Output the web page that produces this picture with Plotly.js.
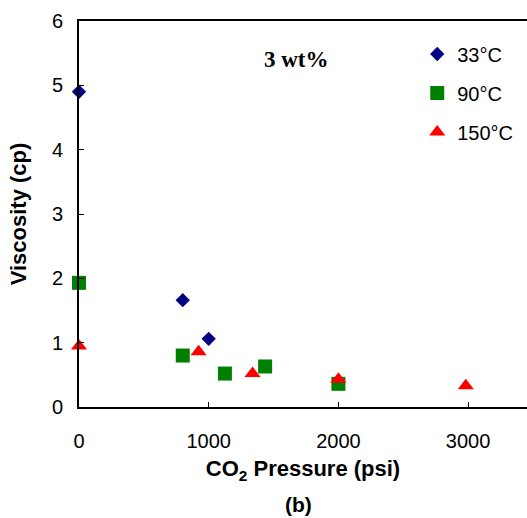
<!DOCTYPE html>
<html>
<head>
<meta charset="utf-8">
<script src="https://cdn.plot.ly/plotly-3.0.1.min.js"></script>
<style>
html,body{margin:0;padding:0;overflow:hidden;background:#fff;}
#chart{width:527px;height:518px;}
</style>
</head>
<body>
<div id="chart"></div>
<script>
// Data
const pressure33 = [0, 800, 1000];
const visc33 = [4.9, 1.66, 1.06];
const pressure90 = [0, 800, 1125, 1435, 2000];
const visc90 = [1.93, 0.8, 0.52, 0.63, 0.36];
const pressure150 = [0, 922, 1338, 2000, 2982];
const visc150 = [0.95, 0.86, 0.52, 0.43, 0.33];
const seriesNames = ['33°C', '90°C', '150°C'];
const xTicks = [0, 1000, 2000, 3000];
const yTicks = [0, 1, 2, 3, 4, 5, 6];

const traces = [
  {x: pressure33, y: visc33, name: seriesNames[0], legendgroup: 'a', mode: 'markers', type: 'scatter', cliponaxis: false,
   marker: {symbol: 'diamond', size: 11, color: '#000080'}},
  {x: pressure90, y: visc90, name: seriesNames[1], legendgroup: 'b', mode: 'markers', type: 'scatter', cliponaxis: false,
   marker: {symbol: 'square', size: 14, color: '#008000'}},
  {x: pressure150, y: visc150, name: seriesNames[2], legendgroup: 'c', mode: 'markers', type: 'scatter', cliponaxis: false,
   marker: {symbol: 'triangle-up', size: 14, color: '#FF0000'}}
];

const layout = {
  width: 527, height: 518,
  margin: {l: 79, r: 0, t: 21, b: 111},
  paper_bgcolor: '#fff', plot_bgcolor: '#fff',
  font: {family: 'Arial, "Liberation Sans", sans-serif', size: 20, color: '#000'},
  showlegend: true,
  legend: {x: 0.755, y: 0.965, xanchor: 'left', yanchor: 'top', bgcolor: 'rgba(0,0,0,0)',
           font: {size: 20}, tracegroupgap: 10, traceorder: 'grouped'},
  xaxis: {range: [0, 3454], tickvals: xTicks, ticktext: xTicks.map(String),
          ticks: 'inside', ticklen: 5, tickwidth: 1, tickcolor: '#000',
          showline: true, linecolor: '#000', linewidth: 2, mirror: true,
          showgrid: false, zeroline: false, ticklabelstandoff: 15,
          tickfont: {size: 20},
          title: {text: '<b>CO<sub>2</sub> Pressure (psi)</b>', font: {size: 22}, standoff: 10}},
  yaxis: {range: [0, 6], tickvals: yTicks, ticktext: yTicks.map(String),
          ticks: 'inside', ticklen: 5, tickwidth: 1, tickcolor: '#000',
          showline: true, linecolor: '#000', linewidth: 2, mirror: false,
          showgrid: false, zeroline: false, ticklabelstandoff: 10,
          tickfont: {size: 20},
          title: {text: '<b>Viscosity (cp)</b>', font: {size: 22}, standoff: 19}},
  annotations: [
    {text: '<b>3 wt%</b>', xref: 'paper', yref: 'paper', x: 0.485, y: 0.899,
     showarrow: false, yanchor: 'middle',
     font: {family: '"Liberation Serif", "Times New Roman", serif', size: 23}},
    {text: '<b>(b)</b>', xref: 'paper', yref: 'paper', x: 0.49, y: -0.253,
     showarrow: false, yanchor: 'middle', font: {size: 21}}
  ]
};

Plotly.newPlot('chart', traces, layout, {displayModeBar: false, staticPlot: true});
</script>
</body>
</html>
